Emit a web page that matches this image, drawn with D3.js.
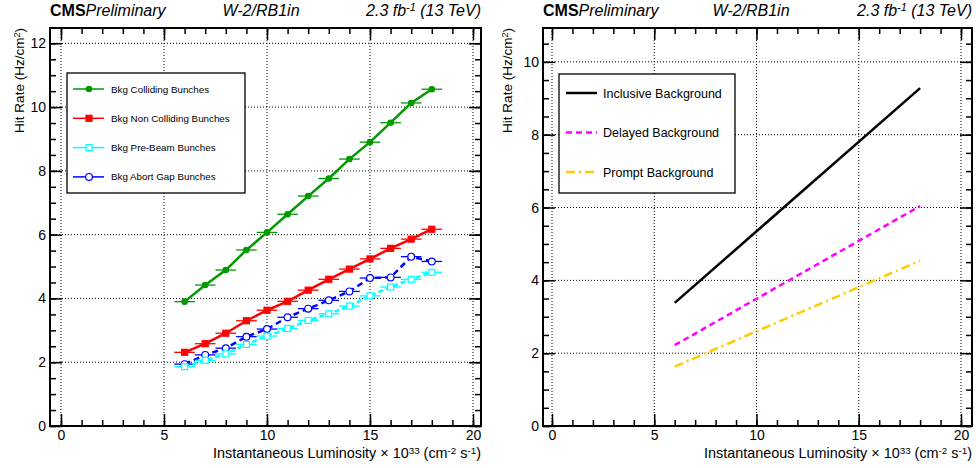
<!DOCTYPE html>
<html>
<head>
<meta charset="utf-8">
<script src="https://cdn.jsdelivr.net/npm/d3@7"></script>
<style>
  body { margin: 0; background: #fff; }
  text { font-family: "Liberation Sans", Arial, sans-serif; fill: #000; }
</style>
</head>
<body>
<div id="chart"></div>
<script>
// left panel: measured hit rates vs luminosity
var lumi = [6, 7, 8, 9, 10, 11, 12, 13, 14, 15, 16, 17, 18];
var lumiHalfWidth = 0.5;
var colliding = [3.90, 4.42, 4.89, 5.52, 6.07, 6.64, 7.21, 7.76, 8.37, 8.90, 9.51, 10.13, 10.56];
var nonColliding = [2.31, 2.58, 2.91, 3.30, 3.63, 3.91, 4.26, 4.60, 4.92, 5.24, 5.57, 5.86, 6.17];
var preBeam = [1.86, 2.06, 2.26, 2.56, 2.82, 3.06, 3.31, 3.52, 3.76, 4.08, 4.36, 4.60, 4.82];
var abortGap = [1.94, 2.23, 2.44, 2.80, 3.04, 3.41, 3.68, 3.94, 4.22, 4.64, 4.66, 5.31, 5.16];

// right panel: background lines
var fitLumi = [6, 18];
var inclusive = [3.38, 9.28];
var delayed = [2.22, 6.04];
var prompt = [1.63, 4.54];

var xMajor = [0, 5, 10, 15, 20];
var xMinor = d3.range(0, 21, 1);
var yMajorLeft = [0, 2, 4, 6, 8, 10, 12];
var yMajorRight = [0, 2, 4, 6, 8, 10];

var svg = d3.select("#chart").append("svg")
    .attr("width", 976)
    .attr("height", 468);

function sup(sel, parts, rise) {
    // parts: [text, isSup]
    rise = rise || 0.45;
    parts.forEach(function(p, i) {
        var prev = i > 0 && parts[i - 1][1];
        var t = sel.append("tspan").text(p[0]);
        if (p[1]) t.attr("font-size", "0.68em").attr("dy", (-rise) + "em");
        else if (prev) t.attr("dy", (rise * 0.68) + "em");
    });
}

function panel(opt) {
    var x = d3.scaleLinear().domain([0, 20]).range([opt.x0, opt.x20]);
    var y = d3.scaleLinear().domain([0, opt.ymax]).range([426, 28]);
    var L = opt.left, R = opt.right, T = 28, B = 426;
    var g = svg.append("g");

    // dotted grid
    g.selectAll(".gx").data(xMajor).enter().append("line")
        .attr("x1", function(d) { return x(d); }).attr("x2", function(d) { return x(d); })
        .attr("y1", T).attr("y2", B)
        .attr("stroke", "#000").attr("stroke-width", 1).attr("stroke-dasharray", "1,2");
    g.selectAll(".gy").data(opt.yMajor.filter(function(d) { return d > 0; })).enter().append("line")
        .attr("x1", L).attr("x2", R)
        .attr("y1", function(d) { return y(d); }).attr("y2", function(d) { return y(d); })
        .attr("stroke", "#000").attr("stroke-width", 1).attr("stroke-dasharray", "1,2");

    // axes with inward ticks
    var yMinor = d3.range(0, opt.ymax, 0.5);
    var ax = [
        g.append("g").attr("transform", "translate(0," + B + ")")
            .call(d3.axisBottom(x).tickValues(xMajor).tickSize(-12).tickPadding(4).tickFormat(d3.format("d"))),
        g.append("g").attr("transform", "translate(0," + B + ")")
            .call(d3.axisBottom(x).tickValues(xMinor).tickSize(-6).tickFormat("")),
        g.append("g").attr("transform", "translate(0," + T + ")")
            .call(d3.axisTop(x).tickValues(xMajor).tickSize(-12).tickFormat("")),
        g.append("g").attr("transform", "translate(0," + T + ")")
            .call(d3.axisTop(x).tickValues(xMinor).tickSize(-6).tickFormat("")),
        g.append("g").attr("transform", "translate(" + L + ",0)")
            .call(d3.axisLeft(y).tickValues(opt.yMajor).tickSize(-12).tickPadding(4).tickFormat(d3.format("d"))),
        g.append("g").attr("transform", "translate(" + L + ",0)")
            .call(d3.axisLeft(y).tickValues(yMinor).tickSize(-6).tickFormat("")),
        g.append("g").attr("transform", "translate(" + R + ",0)")
            .call(d3.axisRight(y).tickValues(opt.yMajor).tickSize(-12).tickFormat("")),
        g.append("g").attr("transform", "translate(" + R + ",0)")
            .call(d3.axisRight(y).tickValues(yMinor).tickSize(-6).tickFormat(""))
    ];
    ax.forEach(function(a) {
        a.select(".domain").remove();
        a.selectAll("line").attr("stroke", "#000").attr("stroke-width", 1.5);
        a.selectAll("text").attr("font-size", 14).attr("font-family", "Liberation Sans, Arial, sans-serif");
    });

    // frame
    g.append("rect").attr("x", L).attr("y", T).attr("width", R - L).attr("height", B - T)
        .attr("fill", "none").attr("stroke", "#000").attr("stroke-width", 2);

    // header
    var h = g.append("text").attr("x", L).attr("y", 16).attr("font-size", 16);
    h.append("tspan").attr("font-weight", "bold").text("CMS");
    h.append("tspan").attr("font-style", "italic").text("Preliminary");
    g.append("text").attr("x", opt.midTitle).attr("y", 16).attr("font-size", 16)
        .attr("font-style", "italic").attr("text-anchor", "middle").text("W-2/RB1in");
    var lt = g.append("text").attr("x", R).attr("y", 16).attr("font-size", 16)
        .attr("font-style", "italic").attr("text-anchor", "end");
    sup(lt, [["2.3 fb", false], ["-1", true], [" (13 TeV)", false]]);

    // axis titles
    var xt = g.append("text").attr("x", R).attr("y", 458).attr("font-size", 14.4).attr("text-anchor", "end");
    sup(xt, [["Instantaneous Luminosity \u00d7 10", false], ["33", true], [" (cm", false], ["-2", true], [" s", false], ["-1", true], [")", false]], 0.36);
    var yt = g.append("text").attr("transform", "translate(" + opt.ytX + "," + T + ") rotate(-90)")
        .attr("font-size", 13.5).attr("text-anchor", "end");
    sup(yt, [["Hit Rate (Hz/cm", false], ["2", true], [")", false]]);

    return { g: g, x: x, y: y };
}

// ---------- left panel ----------
var p1 = panel({ x0: 61, x20: 473, left: 50, right: 481, ymax: 12.48, yMajor: yMajorLeft, midTitle: 261, ytX: 24 });

var series = [
    { name: "Bkg Colliding Bunches", vals: colliding, color: "#009900", marker: "circle", fill: true, dash: null },
    { name: "Bkg Non Colliding Bunches", vals: nonColliding, color: "#ff0000", marker: "square", fill: true, dash: null },
    { name: "Bkg Pre-Beam Bunches", vals: preBeam, color: "#00ffff", marker: "square", fill: false, dash: "5,3" },
    { name: "Bkg Abort Gap Bunches", vals: abortGap, color: "#0000ff", marker: "circle", fill: false, dash: "6,4" }
];

function drawMarker(sel, s, cx, cy) {
    if (s.marker === "circle") {
        sel.append("circle").attr("cx", cx).attr("cy", cy).attr("r", s.fill ? 2.7 : 3.4)
            .attr("fill", s.fill ? s.color : "#fff").attr("stroke", s.color).attr("stroke-width", 1.2);
    } else {
        var a = 6;
        sel.append("rect").attr("x", cx - a / 2).attr("y", cy - a / 2).attr("width", a).attr("height", a)
            .attr("fill", s.fill ? s.color : "#fff").attr("stroke", s.color).attr("stroke-width", 1.2);
    }
}

var line1 = d3.line()
    .x(function(d) { return p1.x(d[0]); })
    .y(function(d) { return p1.y(d[1]); });

// draw back to front so green ends on top
series.slice().reverse().forEach(function(s) {
    var pts = lumi.map(function(l, i) { return [l, s.vals[i]]; });
    var sg = p1.g.append("g");
    sg.append("path").datum(pts).attr("d", line1)
        .attr("fill", "none").attr("stroke", s.color).attr("stroke-width", 2.5)
        .attr("stroke-dasharray", s.dash);
    sg.selectAll(".err").data(pts).enter().append("line")
        .attr("x1", function(d) { return p1.x(d[0] - lumiHalfWidth); })
        .attr("x2", function(d) { return p1.x(d[0] + lumiHalfWidth); })
        .attr("y1", function(d) { return p1.y(d[1]); })
        .attr("y2", function(d) { return p1.y(d[1]); })
        .attr("stroke", s.color).attr("stroke-width", 1.3);
    pts.forEach(function(d) { drawMarker(sg, s, p1.x(d[0]), p1.y(d[1])); });
});

// left legend
var lg1 = p1.g.append("g");
lg1.append("rect").attr("x", 67).attr("y", 73).attr("width", 178).attr("height", 120)
    .attr("fill", "#fff").attr("stroke", "#000").attr("stroke-width", 1.3);
series.forEach(function(s, i) {
    var yy = 89 + i * 29.3;
    lg1.append("line").attr("x1", 73).attr("x2", 104).attr("y1", yy).attr("y2", yy)
        .attr("stroke", s.color).attr("stroke-width", 1.5);
    drawMarker(lg1, s, 89, yy);
    lg1.append("text").attr("x", 111).attr("y", yy + 3.5).attr("font-size", 9.8).text(s.name);
});

// ---------- right panel ----------
var p2 = panel({ x0: 552, x20: 961, left: 543, right: 972, ymax: 10.93, yMajor: yMajorRight, midTitle: 751, ytX: 512 });

var bkg = [
    { name: "Inclusive Background", vals: inclusive, color: "#000000", dash: null },
    { name: "Delayed Background", vals: delayed, color: "#ff00ff", dash: "6,4" },
    { name: "Prompt Background", vals: prompt, color: "#ffcc00", dash: "9,4,2,4" }
];

var line2 = d3.line()
    .x(function(d) { return p2.x(d[0]); })
    .y(function(d) { return p2.y(d[1]); });

bkg.forEach(function(s) {
    var pts = fitLumi.map(function(l, i) { return [l, s.vals[i]]; });
    p2.g.append("path").datum(pts).attr("d", line2)
        .attr("fill", "none").attr("stroke", s.color).attr("stroke-width", 2.5)
        .attr("stroke-dasharray", s.dash);
});

var lg2 = p2.g.append("g");
lg2.append("rect").attr("x", 559).attr("y", 74).attr("width", 176).attr("height", 119)
    .attr("fill", "#fff").attr("stroke", "#000").attr("stroke-width", 1.3);
bkg.forEach(function(s, i) {
    var yy = 93 + i * 39.5;
    lg2.append("line").attr("x1", 566).attr("x2", 597).attr("y1", yy).attr("y2", yy)
        .attr("stroke", s.color).attr("stroke-width", 2.5).attr("stroke-dasharray", s.dash);
    lg2.append("text").attr("x", 603).attr("y", yy + 4.5).attr("font-size", 12.5).text(s.name);
});
</script>
</body>
</html>
